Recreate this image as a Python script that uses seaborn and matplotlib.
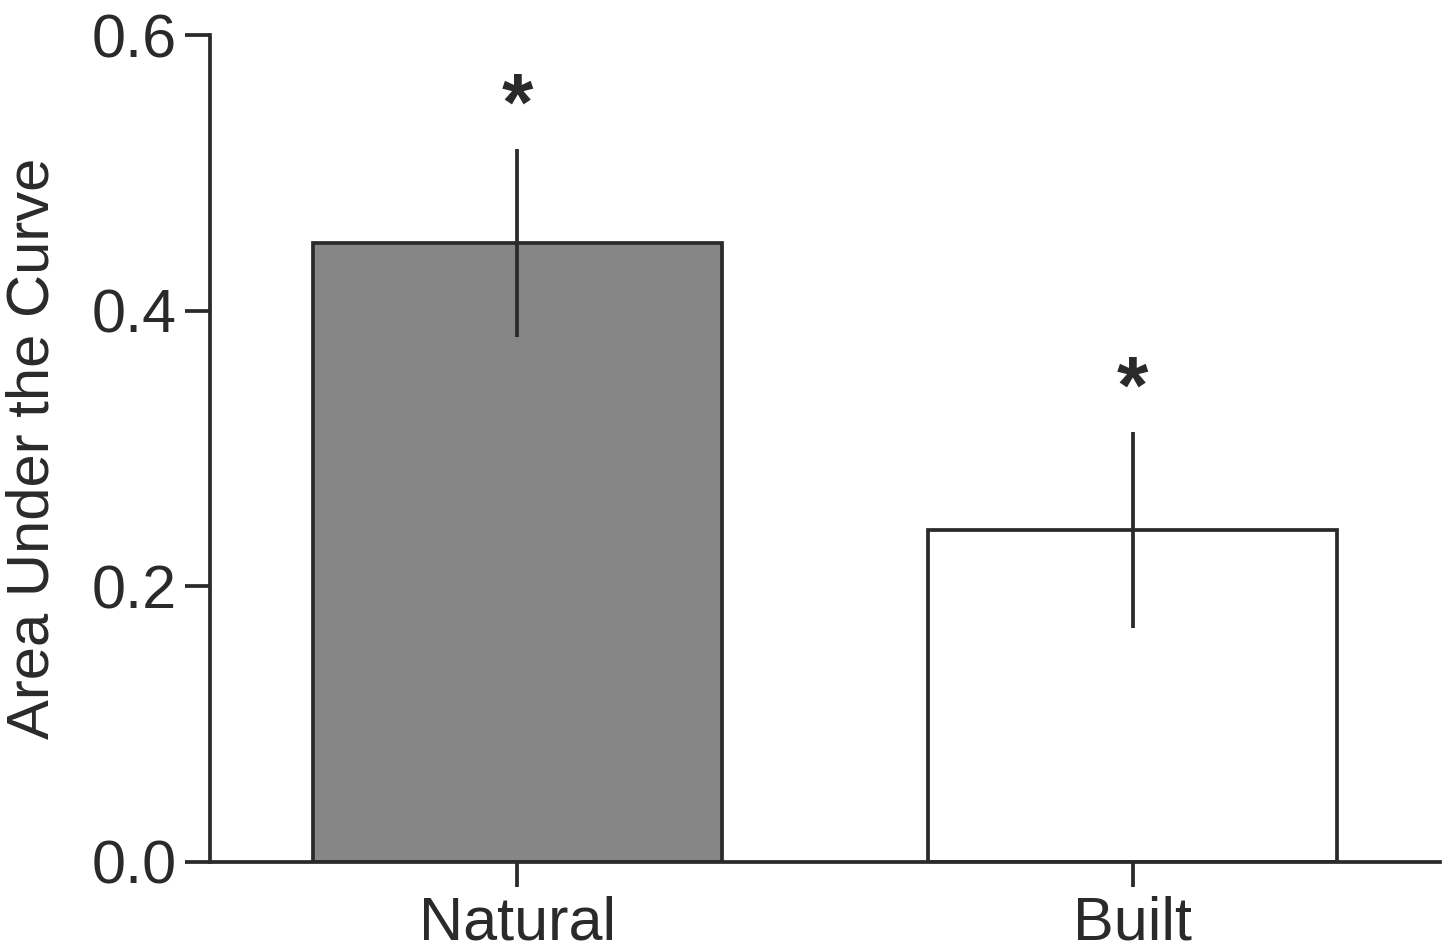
import matplotlib.pyplot as plt
import seaborn as sns
import pandas as pd

# Data
groups = ['Natural', 'Built']
auc_mean = [0.449, 0.241]
auc_err = [0.068, 0.071]
bar_colors = ['#858685', '#ffffff']
sig_marks = ['*', '*']

sns.set_theme(style='ticks')
plt.rcParams['font.family'] = ['Liberation Sans', 'DejaVu Sans']

df = pd.DataFrame({'group': groups, 'auc': auc_mean})

fig = plt.figure(figsize=(14.46, 9.47), dpi=100)
ax = fig.add_axes([0.1452, 0.0898, 0.8507, 0.8732])

line_col = '#2a2a2a'
lw = 2.7
sns.barplot(data=df, x='group', y='auc', hue='group', palette=bar_colors,
            width=0.664, edgecolor=line_col, linewidth=lw, legend=False,
            errorbar=None, ax=ax)

# error bars (no caps), drawn on top of the bars
ax.errorbar(range(len(groups)), auc_mean, yerr=auc_err, fmt='none',
            ecolor=line_col, elinewidth=lw, capsize=0, zorder=5)

# significance asterisks
for i, (m, e, s) in enumerate(zip(auc_mean, auc_err, sig_marks)):
    ax.text(i, m + e + 0.002, s, ha='center', va='bottom',
            fontsize=58, fontweight='bold', color=line_col)

ax.set_xlim(-0.5, 1.5)
ax.set_ylim(0, 0.6)
ax.set_yticks([0.0, 0.2, 0.4, 0.6])
ax.set_yticklabels(['0.0', '0.2', '0.4', '0.6'])
ax.set_xlabel('')
ax.set_ylabel('Area Under the Curve', fontsize=43, color=line_col, labelpad=22)

sns.despine(ax=ax)
for sp in ['left', 'bottom']:
    ax.spines[sp].set_linewidth(lw)
    ax.spines[sp].set_color(line_col)
ax.tick_params(axis='both', length=18, width=lw, color=line_col,
               labelsize=44, labelcolor=line_col, pad=6, direction='out')

fig.savefig('out.png', dpi=100, facecolor='white')
